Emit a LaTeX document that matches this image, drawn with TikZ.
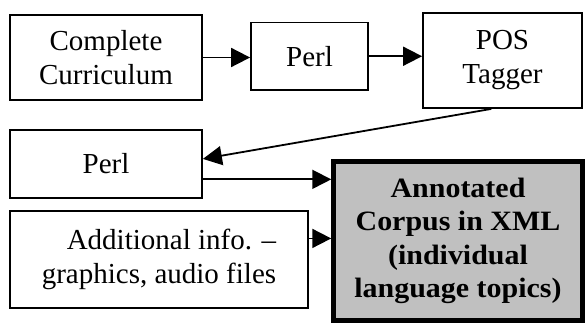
\documentclass[tikz,border=0pt]{standalone}
\usepackage{fontspec}
\setmainfont{Liberation Serif}
\newfontfamily\corpusfont{Liberation Serif}[FakeStretch=1.07]
\usetikzlibrary{arrows.meta,calc}
\begin{document}
\begin{tikzpicture}[x=1pt,y=-1pt]

    \tikzset{
      box/.style={
        draw,
        line width=1.8pt,
        inner sep=0pt,
        align=center,
        font=\fontsize{29}{34}\selectfont,
      },
      result/.style={
        box,
        fill={rgb,255:red,192;green,192;blue,192},
        line width=5pt,
        font=\corpusfont\fontsize{28}{33.5}\selectfont\bfseries,
      },
      flow/.style={
        line width=1.8pt,
        -{Triangle[length=19pt,width=19pt]},
      },
    }
    \useasboundingbox (0,0) rectangle (585,323);
	\node[box,minimum width=192pt,minimum height=85pt] (cc) at (106,57.5) {Complete\\Curriculum};
	\node[box,minimum width=117pt,minimum height=67.5pt] (perlA) at (309.5,56.25) {Perl};
	\node[box,minimum width=159pt,minimum height=95pt] (pos) at (502.5,60.5) {POS\\Tagger};
	\node[box,minimum width=192pt,minimum height=68pt] (perlB) at (106,164) {Perl};
	\node[box,align=right,minimum width=298pt,minimum height=97pt] (info) at (159,259.5) {Additional info. --\\graphics, audio files};
	\node[result,minimum width=248.5pt,minimum height=159.5pt] (corpus) at (458,240.75) {Annotated\\Corpus in XML\\(individual\\language topics)};
	\draw[flow] (cc.east) -- (cc.east -| perlA.west);
	\draw[flow] (perlA.east) -- (perlA.east -| pos.west);
	\draw[flow] (pos.-103) -- (perlB.3);
	\draw[flow] (perlB.-9.5) -- (perlB.-9.5 -| corpus.west);
	\draw[flow] (info.8) -- (info.8 -| corpus.west);

\end{tikzpicture}
\end{document}
